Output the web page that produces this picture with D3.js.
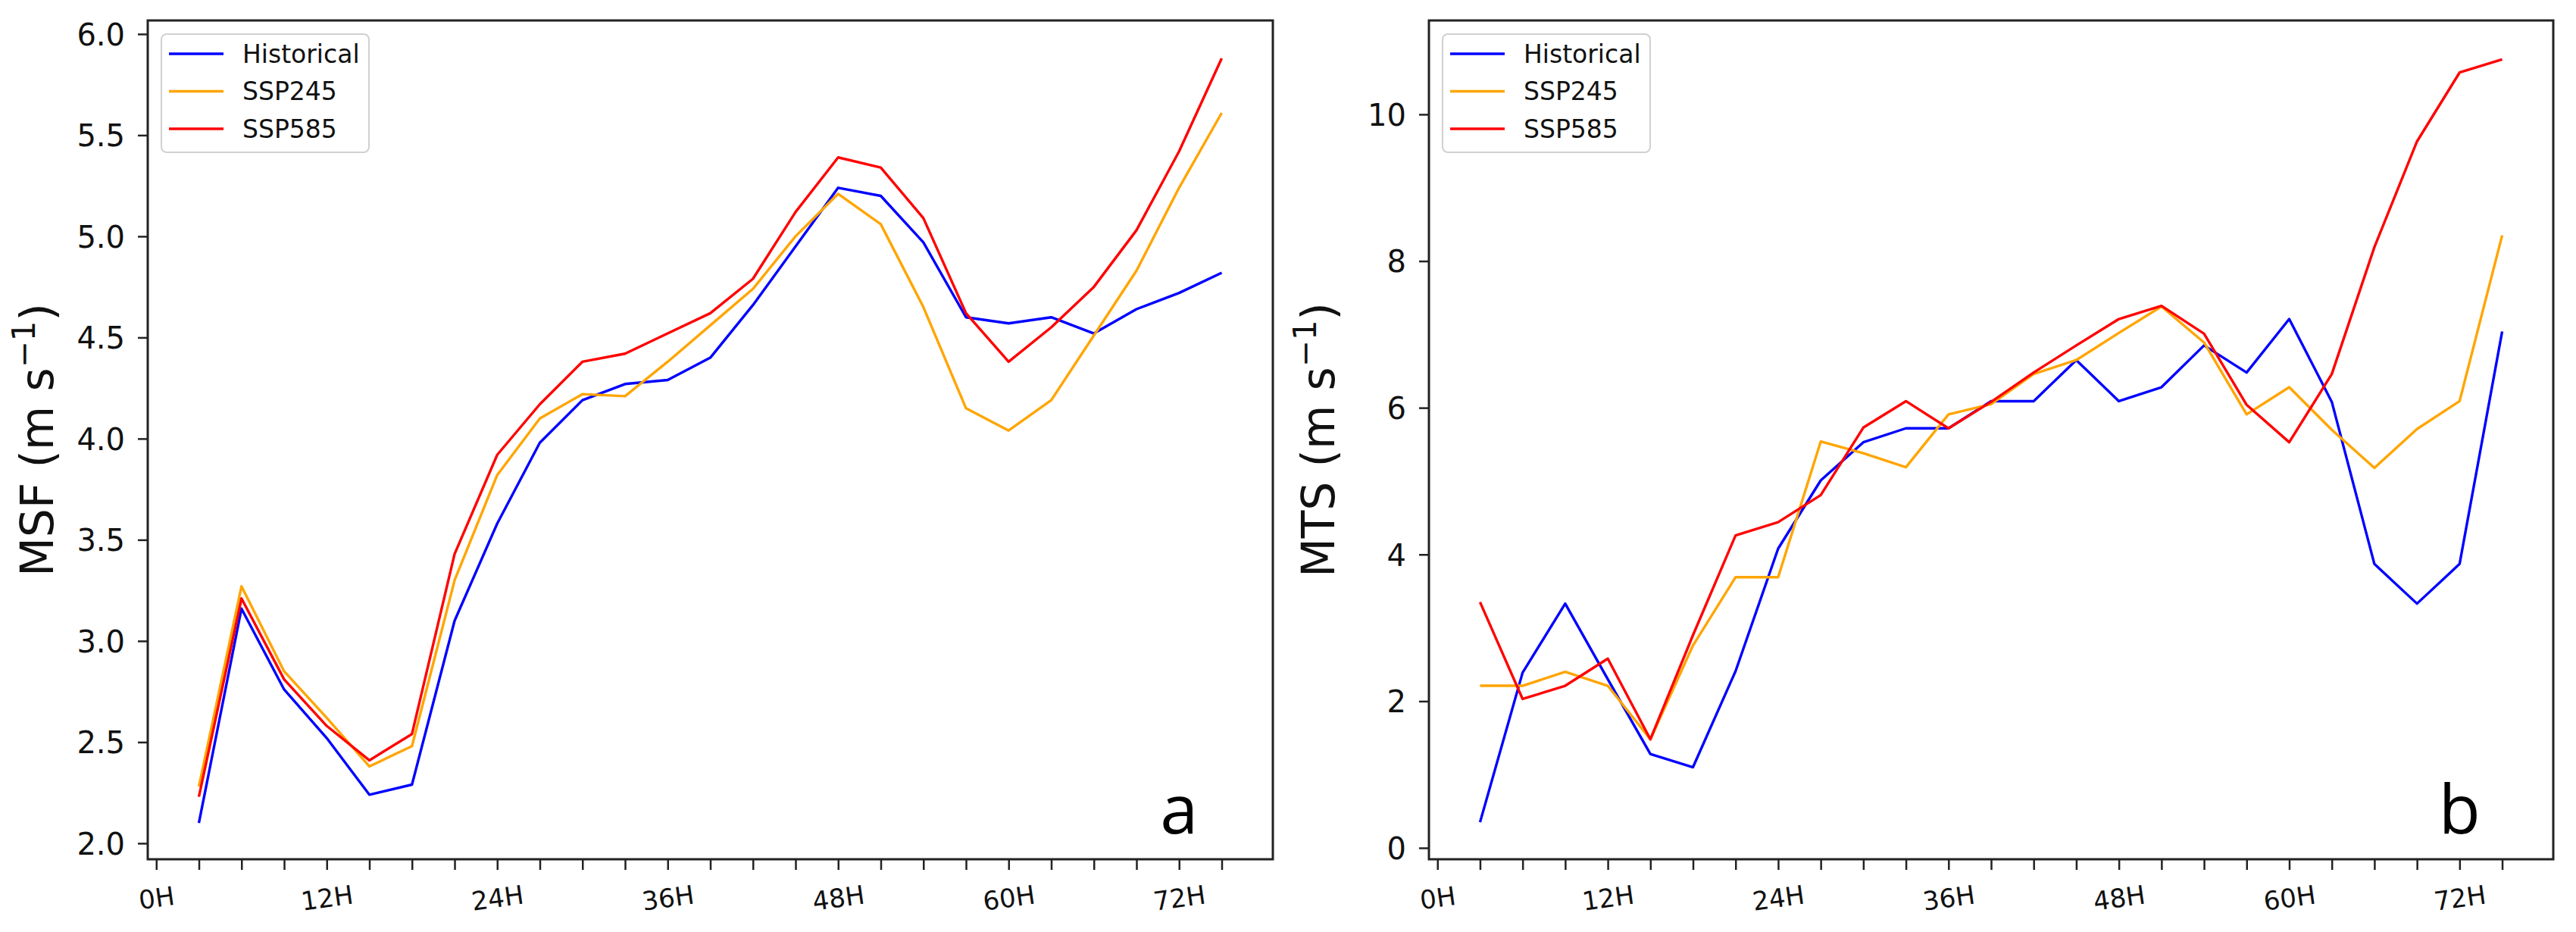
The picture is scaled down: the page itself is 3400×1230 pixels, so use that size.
<!DOCTYPE html>
<html>
<head>
<meta charset="utf-8">
<script src="https://cdn.jsdelivr.net/npm/d3@7"></script>
<style>
  html, body { margin: 0; padding: 0; background: #fff; }
  svg { display: block; }
  text { font-family: "DejaVu Sans", sans-serif; fill: #111; }
</style>
</head>
<body>
<svg id="chart" width="3400" height="1230"></svg>
<script>
// ---- data ----
const hours = [3, 6, 9, 12, 15, 18, 21, 24, 27, 30, 33, 36, 39, 42, 45, 48, 51, 54, 57, 60, 63, 66, 69, 72, 75];
const seriesNames = ["Historical", "SSP245", "SSP585"];
const seriesColors = ["#0000ff", "#ffa500", "#ff0000"];

const msfHistorical = [2.10, 3.16, 2.76, 2.52, 2.24, 2.29, 3.10, 3.58, 3.98, 4.19, 4.27, 4.29, 4.40, 4.66, 4.95, 5.24, 5.20, 4.97, 4.60, 4.57, 4.60, 4.52, 4.64, 4.72, 4.82];
const msfSSP245    = [2.28, 3.27, 2.85, 2.62, 2.38, 2.48, 3.30, 3.82, 4.10, 4.22, 4.21, 4.38, 4.56, 4.74, 5.00, 5.21, 5.06, 4.65, 4.15, 4.04, 4.19, 4.51, 4.83, 5.24, 5.61];
const msfSSP585    = [2.23, 3.21, 2.81, 2.58, 2.41, 2.54, 3.43, 3.92, 4.17, 4.38, 4.42, 4.52, 4.62, 4.79, 5.12, 5.39, 5.34, 5.09, 4.62, 4.38, 4.55, 4.75, 5.03, 5.42, 5.88];

const mtsHistorical = [0.35, 2.39, 3.33, 2.30, 1.28, 1.10, 2.41, 4.08, 5.01, 5.53, 5.72, 5.72, 6.09, 6.09, 6.65, 6.09, 6.28, 6.85, 6.48, 7.21, 6.08, 3.87, 3.33, 3.87, 7.04];
const mtsSSP245    = [2.21, 2.21, 2.40, 2.21, 1.48, 2.76, 3.69, 3.69, 5.54, 5.38, 5.19, 5.91, 6.05, 6.46, 6.65, 7.02, 7.38, 6.89, 5.91, 6.28, 5.70, 5.18, 5.71, 6.09, 8.35];
const mtsSSP585    = [3.35, 2.03, 2.21, 2.58, 1.48, 2.90, 4.26, 4.44, 4.81, 5.73, 6.09, 5.72, 6.08, 6.48, 6.85, 7.21, 7.39, 7.01, 6.04, 5.53, 6.46, 8.19, 9.63, 10.57, 10.75];

const xTickValues = [0, 3, 6, 9, 12, 15, 18, 21, 24, 27, 30, 33, 36, 39, 42, 45, 48, 51, 54, 57, 60, 63, 66, 69, 72, 75];
const xLabelValues = [0, 12, 24, 36, 48, 60, 72];
const msfTicks = [2.0, 2.5, 3.0, 3.5, 4.0, 4.5, 5.0, 5.5, 6.0];
const mtsTicks = [0, 2, 4, 6, 8, 10];

const panels = [
  { left: 195, right: 1680, label: "MSF", letter: "a", yDomain: [1.921, 6.067], ticks: msfTicks, fmt: d3.format(".1f"),
    series: [msfHistorical, msfSSP245, msfSSP585] },
  { left: 1886, right: 3370, label: "MTS", letter: "b", yDomain: [-0.155, 11.28], ticks: mtsTicks, fmt: d3.format("d"),
    series: [mtsHistorical, mtsSSP245, mtsSSP585] }
];

const plotTop = 27, plotBottom = 1134;
const svg = d3.select("#chart");

panels.forEach(p => {
  const x = d3.scaleLinear().domain([-0.6, 78.6]).range([p.left, p.right]);
  const y = d3.scaleLinear().domain(p.yDomain).range([plotBottom, plotTop]);
  const g = svg.append("g");

  // series lines
  const line = d3.line().x((d, i) => x(hours[i])).y(d => y(d));
  p.series.forEach((vals, si) => {
    g.append("path").datum(vals)
      .attr("d", line)
      .attr("fill", "none")
      .attr("stroke", seriesColors[si])
      .attr("stroke-width", 3.4)
      .attr("stroke-linejoin", "round")
      .attr("stroke-linecap", "butt");
  });

  // frame
  g.append("rect")
    .attr("x", p.left).attr("y", plotTop)
    .attr("width", p.right - p.left).attr("height", plotBottom - plotTop)
    .attr("fill", "none").attr("stroke", "#222").attr("stroke-width", 3);

  // x axis
  const xAxis = d3.axisBottom(x).tickValues(xTickValues).tickSize(14).tickPadding(0).tickFormat("");
  const xg = g.append("g").attr("transform", `translate(0,${plotBottom})`).call(xAxis);
  xg.select(".domain").remove();
  xg.selectAll(".tick line").attr("stroke", "#222").attr("stroke-width", 2.5);
  xg.selectAll(".tick").filter(d => xLabelValues.includes(d))
    .append("text")
    .attr("x", 0).attr("y", 51)
    .attr("text-anchor", "middle")
    .attr("dominant-baseline", "central")
    .attr("transform", "rotate(-8,0,51)")
    .style("font-size", "34px")
    .style("fill", "#111")
    .text(d => d + "H");

  // y axis
  const yAxis = d3.axisLeft(y).tickValues(p.ticks).tickSize(13).tickPadding(17).tickFormat(p.fmt);
  const yg = g.append("g").attr("transform", `translate(${p.left},0)`).call(yAxis);
  yg.select(".domain").remove();
  yg.selectAll(".tick line").attr("stroke", "#222").attr("stroke-width", 2.5);
  yg.selectAll(".tick text").style("font-size", "40px").style("fill", "#111")
    .attr("dy", "0.36em").style("font-family", "DejaVu Sans");

  // y label
  const lx = p.left - 125, ly = (plotTop + plotBottom) / 2;
  const yl = g.append("text")
    .attr("transform", `translate(${lx},${ly}) rotate(-90)`)
    .attr("text-anchor", "middle")
    .style("font-size", "60px");
  yl.append("tspan").text(p.label + " (m s");
  yl.append("tspan").attr("dy", -24).style("font-size", "42px").text("\u22121");
  yl.append("tspan").attr("dy", 24).text(")");

  // panel letter
  g.append("text")
    .attr("x", x(72)).attr("y", 1100)
    .attr("text-anchor", "middle")
    .style("font-family", "'Open Sans', sans-serif")
    .style("font-size", "90px")
    .style("fill", "#000")
    .text(p.letter);

  // legend
  const lg = g.append("g").attr("transform", `translate(${p.left + 18},45)`);
  lg.append("rect").attr("x", 0).attr("y", 0).attr("width", 274).attr("height", 156)
    .attr("rx", 7).attr("fill", "#fff").attr("fill-opacity", 0.8)
    .attr("stroke", "#d0d0d0").attr("stroke-width", 2);
  seriesNames.forEach((name, i) => {
    const cy = 26 + i * 49.5;
    lg.append("line").attr("x1", 10).attr("x2", 82).attr("y1", cy).attr("y2", cy)
      .attr("stroke", seriesColors[i]).attr("stroke-width", 3.5);
    lg.append("text").attr("x", 107).attr("y", cy).attr("dy", "0.36em")
      .style("font-size", "33px").text(name);
  });
});
</script>
</body>
</html>
